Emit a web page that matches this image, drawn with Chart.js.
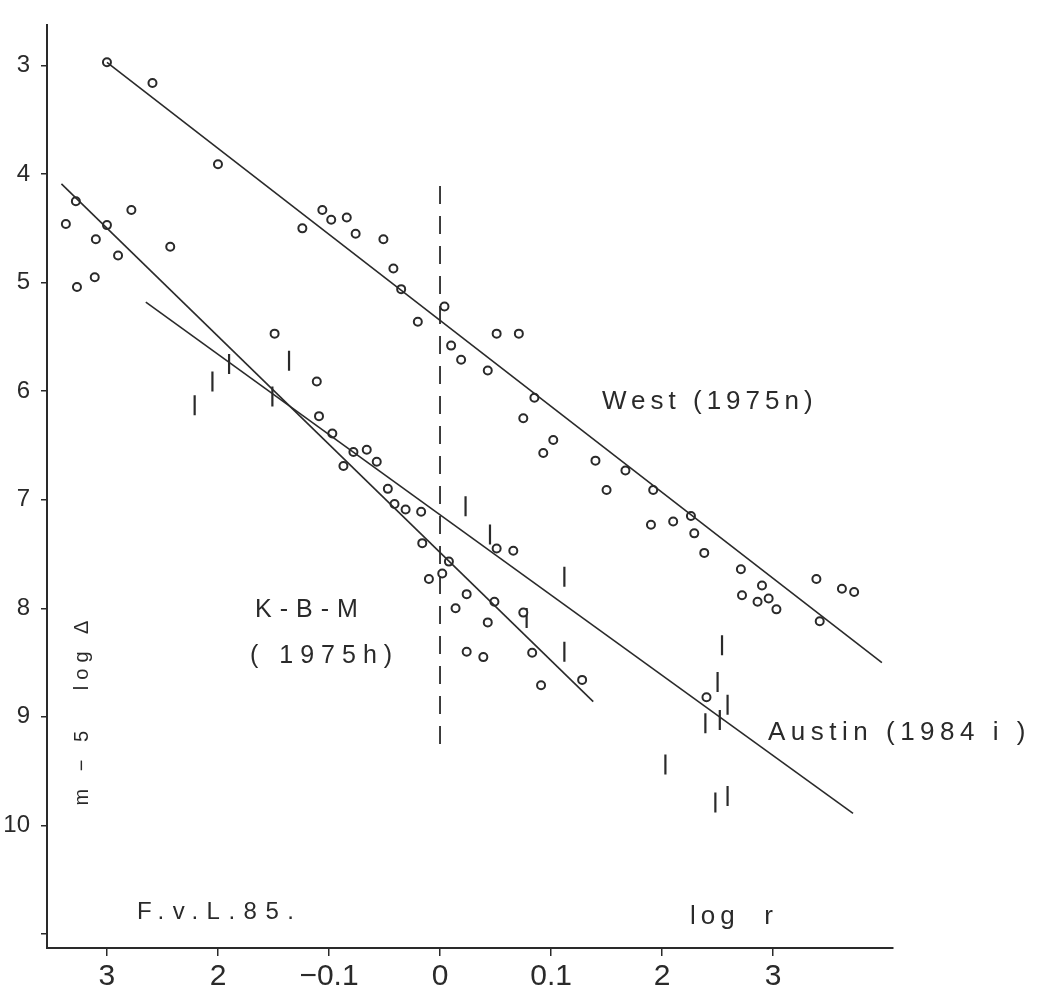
<!DOCTYPE html>
<html>
<head>
<meta charset="utf-8">
<script src="https://cdn.jsdelivr.net/npm/chart.js@4"></script>
<style>
  html, body { margin: 0; padding: 0; background: #fff; }
  #wrap { width: 1064px; height: 990px; }
</style>
</head>
<body>
<div id="wrap"><canvas id="myChart" width="1064" height="990"></canvas></div>
<script>
// ticks del eje x (log r) y del eje y (m - 5 log Δ)
const xTicks = [-0.3, -0.2, -0.1, 0, 0.1, 0.2, 0.3]
const xTickLabels = ['3', '2', '\u22120.1', '0', '0.1', '2', '3']
const yTicks = [3, 4, 5, 6, 7, 8, 9, 10, 11]
const yTickLabels = ['3', '4', '5', '6', '7', '8', '9', '10', '']

// observaciones West (1975n), circulos
const westPoints = [
  [-0.300, 2.97], [-0.259, 3.16], [-0.200, 3.91], [-0.124, 4.50], [-0.106, 4.33],
  [-0.098, 4.42], [-0.084, 4.40], [-0.076, 4.55], [-0.051, 4.60], [-0.042, 4.87],
  [-0.035, 5.06], [-0.020, 5.36], [0.004, 5.22], [0.010, 5.58], [0.019, 5.71],
  [0.043, 5.81], [0.051, 5.47], [0.071, 5.47], [0.085, 6.06], [0.075, 6.25],
  [0.102, 6.45], [0.093, 6.57], [0.140, 6.64], [0.150, 6.91], [0.167, 6.73],
  [0.192, 6.91], [0.190, 7.23], [0.210, 7.20], [0.226, 7.15], [0.229, 7.31],
  [0.238, 7.49], [0.271, 7.64], [0.290, 7.79], [0.272, 7.88], [0.286, 7.94],
  [0.296, 7.91], [0.303, 8.01], [0.339, 7.73], [0.362, 7.82], [0.373, 7.85],
  [0.342, 8.12]
]

// observaciones K-B-M (1975h), circulos
const kbmPoints = [
  [-0.328, 4.25], [-0.337, 4.46], [-0.300, 4.47], [-0.278, 4.33], [-0.310, 4.60],
  [-0.290, 4.75], [-0.243, 4.67], [-0.311, 4.95], [-0.327, 5.04], [-0.149, 5.47],
  [-0.111, 5.91], [-0.109, 6.23], [-0.097, 6.39], [-0.078, 6.56], [-0.087, 6.69],
  [-0.066, 6.54], [-0.057, 6.65], [-0.047, 6.90], [-0.041, 7.04], [-0.031, 7.09],
  [-0.017, 7.11], [-0.016, 7.40], [-0.010, 7.73], [0.002, 7.68], [0.008, 7.57],
  [0.014, 8.00], [0.024, 7.87], [0.043, 8.13], [0.049, 7.94], [0.024, 8.40],
  [0.039, 8.45], [0.051, 7.45], [0.066, 7.47], [0.075, 8.04], [0.083, 8.41],
  [0.091, 8.71], [0.128, 8.66], [0.240, 8.82]
]

// observaciones Austin (1984i), trazos verticales
const austinPoints = [
  [-0.221, 6.13], [-0.205, 5.91], [-0.190, 5.75], [-0.151, 6.05], [-0.136, 5.72],
  [0.023, 7.06], [0.045, 7.32], [0.078, 8.09], [0.112, 7.71], [0.112, 8.40],
  [0.254, 8.34], [0.250, 8.68], [0.259, 8.89], [0.239, 9.06], [0.252, 9.03],
  [0.203, 9.44], [0.248, 9.79], [0.259, 9.73]
]

// rectas ajustadas (extremos)
const westLine = [[-0.300, 2.97], [0.398, 8.50]]
const kbmLine = [[-0.341, 4.09], [0.138, 8.86]]
const austinLine = [[-0.265, 5.18], [0.372, 9.89]]
const zeroLine = [[0, 4.11], [0, 9.33]]

const toXY = arr => arr.map(([x, y]) => ({ x, y }))
const fam = '"Liberation Sans", Arial, sans-serif'
const ink = '#2a2a2a'

const figureTexts = [
  { text: 'West (1975n)', x: 602, y: 402, size: 26, spacing: 5 },
  { text: 'Austin (1984 i )', x: 768, y: 733, size: 26, spacing: 5.5 },
  { text: 'K-B-M', x: 255, y: 610, size: 25, spacing: 8 },
  { text: '( 1975h)', x: 250, y: 656, size: 25, spacing: 7 },
  { text: 'F.v.L.85.', x: 137, y: 912, size: 24, spacing: 8.5 },
  { text: 'log  r', x: 690, y: 917, size: 26, spacing: 5 }
]

const textPlugin = {
  id: 'figureText',
  afterDraw(chart) {
    const c = chart.ctx
    c.save()
    c.fillStyle = ink
    c.textBaseline = 'middle'
    c.textAlign = 'left'
    figureTexts.forEach(t => {
      c.font = `${t.size}px ${fam}`
      c.letterSpacing = t.spacing + 'px'
      c.fillText(t.text, t.x, t.y)
    })
    // titulo del eje y, vertical
    c.translate(82, 710)
    c.rotate(-Math.PI / 2)
    c.textAlign = 'center'
    c.font = `20px ${fam}`
    c.letterSpacing = '6px'
    c.fillText('m \u2212 5   log \u0394', 0, 0)
    c.restore()
  }
}

const lineDs = (data, extra = {}) => ({
  data: toXY(data),
  showLine: true,
  borderColor: ink,
  borderWidth: 1.6,
  pointRadius: 0,
  fill: false,
  ...extra
})

const ctx = document.querySelector('#myChart')
new Chart(ctx, {
  type: 'scatter',
  data: {
    datasets: [
      lineDs(westLine),
      lineDs(kbmLine),
      lineDs(austinLine),
      lineDs(zeroLine, { borderDash: [18, 12], borderWidth: 1.8 }),
      {
        label: 'West',
        data: toXY(westPoints),
        pointStyle: 'circle',
        pointRadius: 4,
        pointBorderWidth: 2,
        borderColor: ink,
        backgroundColor: '#fff'
      },
      {
        label: 'K-B-M',
        data: toXY(kbmPoints),
        pointStyle: 'circle',
        pointRadius: 4,
        pointBorderWidth: 2,
        borderColor: ink,
        backgroundColor: '#fff'
      },
      {
        label: 'Austin',
        data: toXY(austinPoints),
        pointStyle: 'line',
        rotation: 90,
        pointRadius: 10,
        pointBorderWidth: 2.2,
        borderColor: ink,
        backgroundColor: ink
      }
    ]
  },
  options: {
    responsive: false,
    animation: false,
    layout: { padding: { top: 12, right: 171, left: 0, bottom: 0 } },
    plugins: { legend: { display: false }, tooltip: { enabled: false } },
    scales: {
      x: {
        type: 'linear',
        min: -0.354,
        max: 0.408,
        afterBuildTicks: s => { s.ticks = xTicks.map(v => ({ value: v })) },
        afterFit: s => { s.height = 42 },
        ticks: {
          callback: (v, i) => xTickLabels[i],
          font: { size: 30, family: fam },
          color: ink,
          padding: 3,
          maxRotation: 0
        },
        grid: { drawOnChartArea: false, tickLength: 8, color: ink, lineWidth: 1.5 },
        border: { color: ink, width: 2 }
      },
      y: {
        type: 'linear',
        reverse: true,
        min: 2.63,
        max: 11.13,
        afterBuildTicks: s => { s.ticks = yTicks.map(v => ({ value: v })) },
        afterFit: s => { s.width = 47 },
        ticks: {
          callback: (v, i) => yTickLabels[i],
          font: { size: 24, family: fam },
          color: ink,
          padding: 11
        },
        grid: { drawOnChartArea: false, tickLength: 6, color: ink, lineWidth: 1.5 },
        border: { color: ink, width: 2 }
      }
    }
  },
  plugins: [textPlugin]
})
</script>
</body>
</html>
